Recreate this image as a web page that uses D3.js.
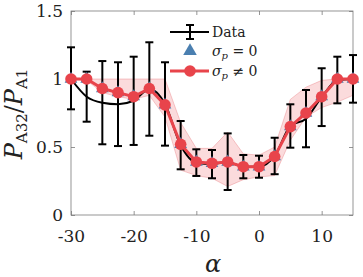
<!DOCTYPE html>
<html><head><meta charset="utf-8">
<script src="https://cdn.jsdelivr.net/npm/d3@7"></script>
<style>
html,body{margin:0;padding:0;background:#fff;}
svg text{font-family:"DejaVu Serif","Liberation Serif",serif;}
</style></head>
<body><svg id="chart" width="363" height="277"></svg>
<script>
const alpha = [-30,-27.5,-25,-22.5,-20,-17.5,-15,-12.5,-10,-7.5,-5,-2.5,0,2.5,5,7.5,10,12.5,15];
const dataMean = [1.0,0.87,0.826,0.815,0.84,0.926,0.816,0.513,0.385,0.375,0.39,0.355,0.355,0.434,0.654,0.708,0.866,0.99,1.0];
const dataLow  = [0.777,0.686,0.52,0.507,0.515,0.583,0.51,0.336,0.287,0.27,0.184,0.27,0.274,0.30,0.495,0.498,0.654,0.821,0.826];
const dataHigh = [1.233,1.054,1.132,1.123,1.164,1.27,1.123,0.691,0.483,0.478,0.60,0.441,0.436,0.568,0.814,0.919,1.079,1.164,1.176];
const sigma0   = [1.0,1.0,0.93,0.90,0.87,0.93,0.81,0.52,0.39,0.38,0.39,0.355,0.355,0.43,0.65,0.75,0.87,1.0,1.0];
const sigmaP   = [1.0,1.0,0.93,0.90,0.87,0.93,0.81,0.52,0.39,0.38,0.39,0.355,0.355,0.43,0.65,0.75,0.87,1.0,1.0];
const bandLow  = [1.0,0.99,0.90,0.87,0.85,0.88,0.72,0.33,0.29,0.27,0.21,0.26,0.28,0.29,0.55,0.72,0.79,0.83,0.88];
const bandHigh = [1.0,1.0,1.0,1.0,1.0,1.0,1.0,0.68,0.49,0.49,0.61,0.45,0.44,0.50,0.85,0.94,0.99,1.0,1.0];
const xTicks = [-30,-20,-10,0,10];
const xTickLabels = ["-30","-20","-10","0","10"];
const yTicks = [0,0.5,1,1.5];
const yTickLabels = ["0","0.5","1","1.5"];
const legendLabels = ["Data","σ_p = 0","σ_p ≠ 0"];

const svg = d3.select("#chart");
const m = {l:71, r:10, t:11, b:62};
const W = 363, H = 277;
const x = d3.scaleLinear().domain([-30,15]).range([m.l, W-m.r]);
const y = d3.scaleLinear().domain([0,1.5]).range([H-m.b, m.t]);
const red = "#e8444b", black = "#000", blue = "#4a7fb0";

const pts = alpha.map((a,i)=>({a, mean:dataMean[i], lo:dataLow[i], hi:dataHigh[i], s0:sigma0[i], sp:sigmaP[i], bl:bandLow[i], bh:bandHigh[i]}));

// band
svg.append("path").datum(pts)
  .attr("d", d3.area().x(d=>x(d.a)).y0(d=>y(d.bl)).y1(d=>y(d.bh)))
  .attr("fill", "rgba(236,90,96,0.22)").attr("stroke","rgba(230,110,115,0.45)").attr("stroke-width",0.8);

// axes box
svg.append("rect").attr("x",m.l).attr("y",m.t).attr("width",W-m.r-m.l).attr("height",H-m.b-m.t)
  .attr("fill","none").attr("stroke","#7a7a7a").attr("stroke-width",0.8);

const xb = svg.append("g").attr("transform",`translate(0,${H-m.b})`)
  .call(d3.axisBottom(x).tickValues(xTicks).tickSize(-4).tickPadding(15).tickFormat((d,i)=>xTickLabels[i]));
const xt = svg.append("g").attr("transform",`translate(0,${m.t})`)
  .call(d3.axisTop(x).tickValues(xTicks).tickSize(-4).tickFormat(""));
const yl = svg.append("g").attr("transform",`translate(${m.l},0)`)
  .call(d3.axisLeft(y).tickValues(yTicks).tickSize(-4).tickPadding(8).tickFormat((d,i)=>yTickLabels[i]));
const yr = svg.append("g").attr("transform",`translate(${W-m.r},0)`)
  .call(d3.axisRight(y).tickValues(yTicks).tickSize(-4).tickFormat(""));
[xb,xt,yl,yr].forEach(a=>{
  a.select(".domain").remove();
  a.selectAll(".tick line").attr("stroke","#7a7a7a").attr("stroke-width",0.8);
  a.selectAll("text").attr("font-size",17).attr("fill","#222").style("font-family","DejaVu Serif");
});
xb.selectAll("text").attr("dy","0.71em");

// data line (black)
svg.append("path").datum(pts)
  .attr("d", d3.line().x(d=>x(d.a)).y(d=>y(d.mean)).curve(d3.curveMonotoneX))
  .attr("fill","none").attr("stroke",black).attr("stroke-width",2);

// error bars
const eb = svg.append("g").attr("stroke",black).attr("stroke-width",2);
pts.forEach(d=>{
  eb.append("line").attr("x1",x(d.a)).attr("x2",x(d.a)).attr("y1",y(d.lo)).attr("y2",y(d.hi));
  eb.append("line").attr("x1",x(d.a)-4).attr("x2",x(d.a)+4).attr("y1",y(d.lo)).attr("y2",y(d.lo));
  eb.append("line").attr("x1",x(d.a)-4).attr("x2",x(d.a)+4).attr("y1",y(d.hi)).attr("y2",y(d.hi));
});

// sigma_p = 0 triangles
const tri = d3.symbol().type(d3.symbolTriangle).size(70);
svg.append("g").selectAll("path").data(pts).join("path")
  .attr("d", tri).attr("transform", d=>`translate(${x(d.a)},${y(d.s0)})`).attr("fill",blue);

// sigma_p != 0 line + markers
svg.append("path").datum(pts)
  .attr("d", d3.line().x(d=>x(d.a)).y(d=>y(d.sp)))
  .attr("fill","none").attr("stroke",red).attr("stroke-width",3);
svg.append("g").selectAll("circle").data(pts).join("circle")
  .attr("cx",d=>x(d.a)).attr("cy",d=>y(d.sp)).attr("r",5.8).attr("fill",red);

// legend
const lg = svg.append("g");
const lx0 = 170, lx1 = 209, lxc = 190, ltx = 212;
const ly = [32, 51, 71];
lg.append("line").attr("x1",lx0).attr("x2",lx1).attr("y1",ly[0]).attr("y2",ly[0]).attr("stroke",black).attr("stroke-width",2);
lg.append("line").attr("x1",lxc).attr("x2",lxc).attr("y1",ly[0]-7).attr("y2",ly[0]+7).attr("stroke",black).attr("stroke-width",2);
lg.append("line").attr("x1",lxc-4).attr("x2",lxc+4).attr("y1",ly[0]-7).attr("y2",ly[0]-7).attr("stroke",black).attr("stroke-width",2);
lg.append("line").attr("x1",lxc-4).attr("x2",lxc+4).attr("y1",ly[0]+7).attr("y2",ly[0]+7).attr("stroke",black).attr("stroke-width",2);
lg.append("path").attr("d",d3.symbol().type(d3.symbolTriangle).size(80)).attr("transform",`translate(${lxc},${ly[1]})`).attr("fill",blue);
lg.append("line").attr("x1",lx0).attr("x2",lx1).attr("y1",ly[2]).attr("y2",ly[2]).attr("stroke",red).attr("stroke-width",3);
lg.append("circle").attr("cx",lxc).attr("cy",ly[2]).attr("r",5.8).attr("fill",red);

function sigmaLabel(t, text, yy){
  const parts = text.split(" ");
  const tx = t.append("text").attr("x",ltx).attr("y",yy).attr("dy","0.35em").attr("font-size",14).attr("fill","#222");
  tx.append("tspan").attr("font-style","italic").text("σ");
  tx.append("tspan").attr("font-style","italic").attr("font-size",10).attr("dy","3").text("p");
  tx.append("tspan").attr("dy","-3").text(" "+parts[1]+" "+parts[2]);
}
lg.append("text").attr("x",ltx).attr("y",ly[0]).attr("dy","0.35em").attr("font-size",14).attr("fill","#222").text(legendLabels[0]);
sigmaLabel(lg, legendLabels[1], ly[1]);
sigmaLabel(lg, legendLabels[2], ly[2]);

// axis labels
svg.append("text").attr("x", 213).attr("y", 272)
  .attr("text-anchor","middle").attr("font-size",24).attr("font-style","italic").attr("fill","#222").text("α");

const ylab = svg.append("text").attr("transform","translate(22,114) rotate(-90)")
  .attr("text-anchor","middle").attr("font-size",24).attr("fill","#222");
ylab.append("tspan").attr("font-style","italic").text("P");
ylab.append("tspan").attr("font-size",15).attr("dy",5).text("A32");
ylab.append("tspan").attr("dy",-5).text("/");
ylab.append("tspan").attr("font-style","italic").text("P");
ylab.append("tspan").attr("font-size",15).attr("dy",5).text("A1");
</script></body></html>
